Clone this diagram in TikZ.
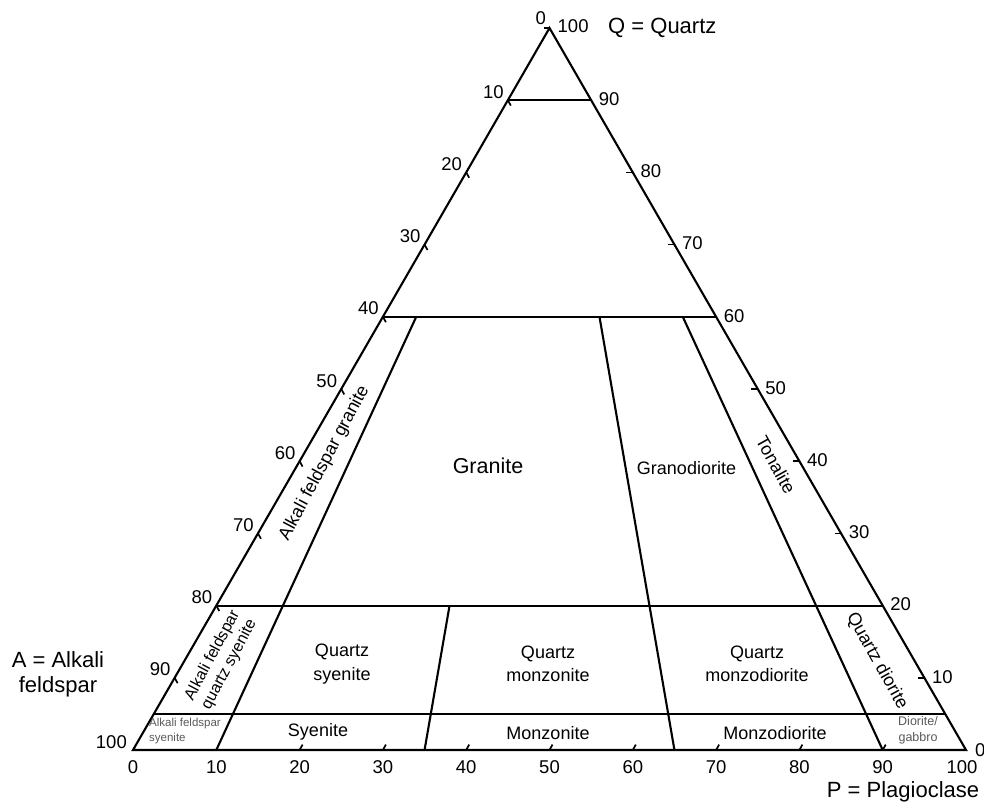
\documentclass[tikz,border=0pt]{standalone}
\usepackage{fontspec}
\setmainfont{Liberation Sans}
\usetikzlibrary{calc}
\begin{document}
\begin{tikzpicture}[x=1pt,y=-1pt,
  edge/.style={line width=2.1pt,line join=miter},
  divider/.style={line width=2.1pt},
  tickmark/.style={line width=1.7pt},
  num/.style={font=\fontsize{18.5}{20}\selectfont,inner sep=0pt},
  axislab/.style={font=\fontsize{22}{25}\selectfont,inner sep=0pt,align=center},
  field/.style={font=\fontsize{18}{23.5}\selectfont,inner sep=0pt,align=center},
  bigfield/.style={font=\fontsize{21.5}{24}\selectfont,inner sep=0pt},
  slanted/.style={font=\fontsize{18}{22}\selectfont,inner sep=0pt},
  slantedtwo/.style={font=\fontsize{16}{19}\selectfont,inner sep=0pt,align=center},
  tiny/.style={font=\fontsize{11.5}{15}\selectfont,inner sep=0pt,align=left,text=black!65},
  tinyc/.style={font=\fontsize{12.5}{16}\selectfont,inner sep=0pt,align=center,text=black!65}]
\useasboundingbox (0,0) rectangle (984,805);
\coordinate (A) at (133,750);
\coordinate (P) at (966,750);
\coordinate (Q) at (549.5,28);
% edge points
\foreach \q in {05,10,20,30,40,50,60,70,80,90} {
  \coordinate (L\q) at ($(A)!0.\q!(Q)$);
  \coordinate (R\q) at ($(P)!0.\q!(Q)$);
}
\foreach \b in {10,20,30,35,40,50,60,65,70,80,90} {
  \coordinate (B\b) at ($(A)!0.\b!(P)$);
}
% radial line ends
\coordinate (U10) at ($(B10)!0.6!(Q)$);
\coordinate (U65) at ($(B65)!0.6!(Q)$);
\coordinate (U90) at ($(B90)!0.6!(Q)$);
\coordinate (U35) at ($(B35)!0.2!(Q)$);
% ticks
\foreach \q in {10,20,30,40,50,60,70,80,90} {
  \draw[tickmark] (L\q) -- +(3,5.4);
  \draw[tickmark] (R\q) -- +(-6.5,0);
}
\draw[tickmark] (Q) -- +(-6,0);
\foreach \b in {20,30,40,50,60,70,80,90} {
  \draw[tickmark] (B\b) -- +(3,-5.4);
}
% outline and field boundaries
\draw[edge] (A) -- (P) -- (Q) -- cycle;
\draw[divider] (L90) -- (R90);
\draw[divider] (L60) -- (R60);
\draw[divider] (L20) -- (R20);
\draw[divider] (L05) -- (R05);
\draw[divider] (U10) -- (B10);
\draw[divider] (U65) -- (B65);
\draw[divider] (U90) -- (B90);
\draw[divider] (U35) -- (B35);
% left edge numbers (A)
\node[num,anchor=south east,xshift=-3.5pt,yshift=3.5pt] (la0) at (Q) {0};
\foreach \q/\t in {90/10,80/20,70/30,60/40,50/50,40/60,30/70,20/80,10/90} {
  \node[num,anchor=south east,xshift=-4pt,yshift=1.5pt] (la\t) at (L\q) {\t};
}
\node[num,anchor=south east,xshift=-6pt,yshift=1pt] (la100) at (A) {100};
% right edge numbers (Q)
\node[num,anchor=west,xshift=8pt,yshift=2pt] (rq100) at (Q) {100};
\foreach \q in {90,80,70,60,50,40,30,20,10} {
  \node[num,anchor=west,xshift=7.5pt,yshift=1pt] (rq\q) at (R\q) {\q};
}
\node[num,anchor=west,xshift=9pt] (rq0) at (P) {0};
% bottom numbers (P)
\node[num,anchor=north,yshift=-10pt] (bp0) at (A) {0};
\foreach \b in {10,20,30,40,50,60,70,80,90} {
  \node[num,anchor=north,yshift=-10pt] (bp\b) at (B\b) {\b};
}
\node[num,anchor=north,yshift=-10pt,xshift=-4pt] (bp100) at (P) {100};
% axis names
\node[axislab,anchor=base west] (qname) at (608,34) {Q = Quartz};
\node[axislab,anchor=base] (pname) at (903,797) {P = Plagioclase};
\node[axislab,anchor=base] (aname) at (58,692) {A = Alkali\\feldspar};
% field names
\node[bigfield] (granite) at (488,466) {Granite};
\node[field] (granodiorite) at (686.5,468) {Granodiorite};
\node[slanted,rotate=62] (afgranite) at (324.5,463) {Alkali feldspar granite};
\node[slanted,rotate=-61] (tonalite) at (776,465) {Tonalite};
\node[slanted,rotate=-61] (qdiorite) at (877,661) {Quartz diorite};
\node[slantedtwo,rotate=62] (afqsyenite) at (221,660) {Alkali feldspar\\quartz syenite};
\node[field] (qsyenite) at (342,664) {Quartz\\syenite};
\node[field] (qmonzonite) at (548,664) {Quartz\\monzonite};
\node[field] (qmonzodiorite) at (757,664) {Quartz\\monzodiorite};
\node[field] (syenite) at (318,732) {Syenite};
\node[field] (monzonite) at (548,733) {Monzonite};
\node[field] (monzodiorite) at (775,733) {Monzodiorite};
\node[tiny,anchor=west] (afsyenite) at (149,731) {Alkali feldspar\\syenite};
\node[tinyc] (dioritegabbro) at (918,730) {Diorite/\\gabbro};
\end{tikzpicture}
\end{document}
